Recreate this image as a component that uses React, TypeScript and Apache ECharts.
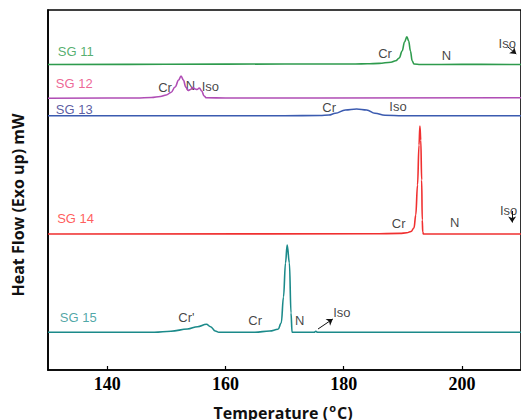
import React, { useEffect, useRef } from "react";
import * as echarts from "echarts";

// Temperature (°C) vs. heat flow (offset traces, arbitrary mW units)
const sg11: [number, number][] = [
  [130, 30.55], [150, 30.57], [170, 30.6], [182, 30.6], [184, 30.62], [186, 30.66], [188, 30.78],
  [188.8, 30.92], [189.4, 31.2], [189.9, 31.9], [190.3, 32.8], [190.7, 33.33], [191.0, 32.9],
  [191.3, 31.9], [191.6, 30.9], [191.9, 30.6], [193, 30.55], [200, 30.56], [210, 30.55],
];
const sg12: [number, number][] = [
  [130, 27.18], [145, 27.2], [147.5, 27.25], [149, 27.35], [150, 27.5], [150.8, 27.75],
  [151.5, 28.3], [152.1, 29.0], [152.5, 29.4], [152.9, 29.0], [153.3, 28.3], [153.7, 27.95],
  [154.1, 28.05], [154.5, 28.25], [154.9, 28.1], [155.2, 28.05], [155.6, 28.2], [156, 27.9],
  [156.4, 27.4], [156.8, 27.22], [160, 27.2], [210, 27.23],
];
const sg13: [number, number][] = [
  [130, 25.43], [170, 25.43], [176, 25.45], [177.5, 25.5], [178.6, 25.67], [180.3, 26.0],
  [182.2, 26.1], [183.9, 26.0], [185.3, 25.67], [187, 25.47], [190, 25.43], [210, 25.43],
];
const sg14: [number, number][] = [
  [130, 13.6], [185, 13.62], [189.5, 13.66], [190.7, 13.72], [191.4, 13.85], [191.9, 14.2],
  [192.2, 15.5], [192.5, 18.5], [192.75, 22.5], [192.9, 24.4], [193.05, 23], [193.2, 19],
  [193.3, 15], [193.38, 13.8], [193.5, 13.6], [210, 13.6],
];
const sg15: [number, number][] = [
  [130, 3.77], [148, 3.78], [150.8, 3.88], [153.6, 4.1], [155.3, 4.33], [156.8, 4.57],
  [157.5, 4.33], [158.3, 3.9], [158.9, 3.77], [165, 3.78], [167.5, 3.9], [168.9, 4.07],
  [169.45, 4.7], [169.83, 7.3], [170.17, 10.7], [170.45, 12.5], [170.83, 10.7], [171.1, 5.7],
  [171.28, 3.77], [175.0, 3.77], [175.3, 3.87], [175.6, 3.77], [210, 3.77],
];

const seriesNames = ["SG 11", "SG 12", "SG 13", "SG 14", "SG 15"];
const seriesData = [sg11, sg12, sg13, sg14, sg15];
const lineColors = ["#2e9b4d", "#b04db5", "#3b5bb0", "#f03030", "#1b8a8a"];
const nameColors = ["#2a9a4a", "#e8407a", "#33338a", "#ff3333", "#1f9090"];
// [T, value] anchor of each trace name
const nameAnchors: [number, number][] = [
  [131.67, 31.83], [131.33, 28.67], [131.33, 26.1], [131.55, 15.17], [132, 5.23],
];

// phase annotations: [T, value, text, align]
const phaseLabels: [number, number, string, string][] = [
  [187, 31.67, "Cr", "center"], [197.4, 31.5, "N", "center"], [206.2, 32.67, "Iso", "left"],
  [149.8, 28.27, "Cr", "center"], [154.1, 28.5, "N", "center"], [157.45, 28.33, "Iso", "center"],
  [177.55, 26.27, "Cr", "center"], [189.2, 26.33, "Iso", "center"],
  [189.3, 14.67, "Cr", "center"], [198.8, 14.73, "N", "center"], [206.45, 16.0, "Iso", "left"],
  [153.4, 5.27, "Cr'", "center"], [165.05, 5.0, "Cr", "center"], [172.55, 5.0, "N", "center"],
  [179.7, 5.73, "Iso", "center"],
];

// arrows: [T1, v1, T2, v2]
const arrows: [number, number, number, number][] = [
  [207.8, 32.3, 209.2, 31.6],
  [208.5, 15.9, 208.5, 14.75],
  [175.67, 4.1, 178.17, 5.1],
];

const xTicks = [140, 160, 180, 200];

export default function App() {
  const ref = useRef<HTMLDivElement>(null);
  useEffect(() => {
    if (!ref.current) return;
    const chart = echarts.init(ref.current, null, { renderer: "svg" });
    const lineSeries = seriesData.map((d, i) => ({
      type: "line",
      name: seriesNames[i],
      data: d,
      showSymbol: false,
      smooth: 0.4,
      smoothMonotone: "x",
      lineStyle: { color: lineColors[i], width: 1.6 },
      silent: true,
    }));
    const nameSeries = {
      type: "scatter",
      symbolSize: 0,
      silent: true,
      data: nameAnchors.map((p, i) => ({
        value: p,
        label: {
          show: true,
          formatter: seriesNames[i],
          position: "inside",
          align: "left",
          verticalAlign: "middle",
          color: nameColors[i],
          fontSize: 13,
          fontFamily: "Liberation Sans",
        },
      })),
    };
    const labelSeries = {
      type: "scatter",
      symbolSize: 0,
      silent: true,
      data: phaseLabels.map((p) => ({
        value: [p[0], p[1]],
        label: {
          show: true,
          formatter: p[2],
          position: "inside",
          align: p[3],
          verticalAlign: "middle",
          color: "#111",
          fontSize: 13,
          fontFamily: "Liberation Sans",
        },
      })),
      markLine: {
        silent: true,
        symbol: ["none", "arrow"],
        symbolSize: 6,
        label: { show: false },
        lineStyle: { color: "#111", width: 1, type: "solid" },
        data: arrows.map((a) => [{ coord: [a[0], a[1]] }, { coord: [a[2], a[3]] }]),
      },
    };
    chart.setOption({
      animation: false,
      grid: {
        left: 48,
        top: 10,
        width: 480,
        height: 360,
        show: true,
        borderColor: "#000",
        borderWidth: 1.6,
      },
      xAxis: {
        type: "value",
        min: 130,
        max: 210,
        interval: 10,
        axisLine: { show: true, lineStyle: { color: "#000", width: 1.6 } },
        axisTick: { show: true, inside: true, length: 4, customValues: xTicks, lineStyle: { color: "#000", width: 1.2 } },
        axisLabel: {
          customValues: xTicks,
          color: "#000",
          fontFamily: "Liberation Serif",
          fontWeight: "bold",
          fontSize: 18,
          margin: 5,
        },
        splitLine: { show: false },
      },
      yAxis: {
        type: "value",
        min: 0,
        max: 36,
        axisLine: { show: true, lineStyle: { color: "#000", width: 1.6 } },
        axisTick: { show: false },
        axisLabel: { show: false },
        splitLine: { show: false },
      },
      series: [...lineSeries, nameSeries, labelSeries],
      graphic: [
        {
          type: "text",
          x: 283,
          y: 411,
          style: {
            text: "{a|Temperature (}{b|o}{a|C)}",
            align: "center",
            verticalAlign: "middle",
            rich: {
              a: { fontFamily: "Open Sans", fontWeight: "bold", fontSize: 16, fill: "#111", verticalAlign: "bottom" },
              b: { fontFamily: "Open Sans", fontWeight: "bold", fontSize: 11, fill: "#111", verticalAlign: "top", padding: [0, 1, 8, 1] },
            },
          },
        },
        {
          type: "text",
          x: 18,
          y: 205,
          rotation: Math.PI / 2,
          style: {
            text: "Heat Flow (Exo up) mW",
            align: "center",
            verticalAlign: "middle",
            fontFamily: "Open Sans",
            fontWeight: "bold",
            fontSize: 16,
            fill: "#111",
          },
        },
      ],
    });
    return () => chart.dispose();
  }, []);
  return <div ref={ref} style={{ position: "absolute", left: 0, top: 0, width: 521, height: 420 }} />;
}
